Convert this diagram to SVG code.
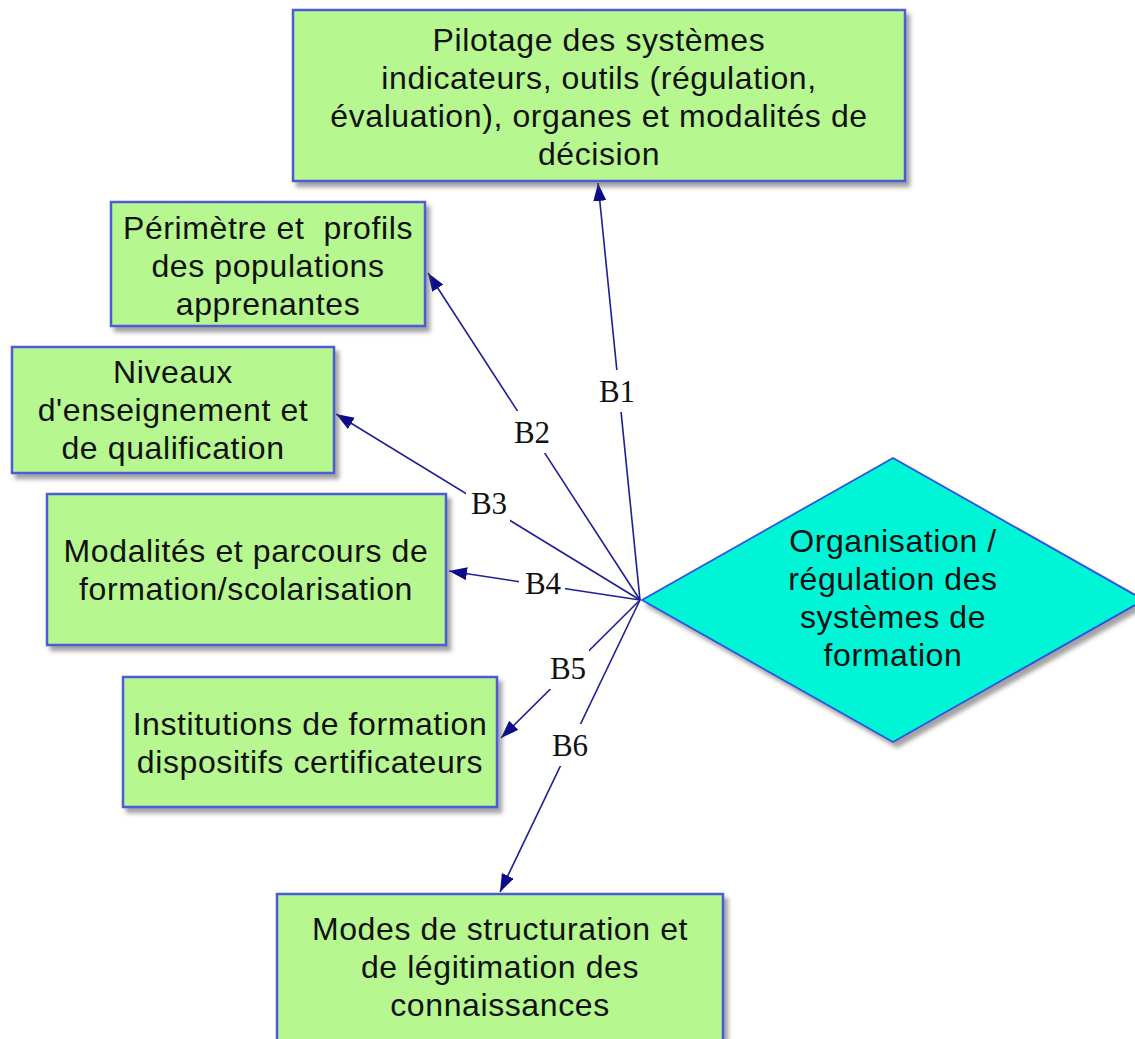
<svg xmlns="http://www.w3.org/2000/svg" width="1135" height="1039" viewBox="0 0 1135 1039">
<defs>
<filter id="sh" x="-5%" y="-5%" width="115%" height="115%">
<feDropShadow dx="4" dy="5" stdDeviation="2" flood-color="#555" flood-opacity="0.55"/>
</filter>
<marker id="ah" markerUnits="userSpaceOnUse" markerWidth="20" markerHeight="14" refX="18" refY="6.5" orient="auto">
<path d="M0,0 L18,6.5 L0,13 z" fill="#0c0c88"/>
</marker>
<style>
.box{fill:#b6f78f;stroke:#4e5bd6;stroke-width:2.5;filter:url(#sh)}
.dia{fill:#00f5d6;stroke:#3052e0;stroke-width:1.8;filter:url(#sh)}
.t{font-family:"Liberation Sans",Arial,sans-serif;font-size:32px;letter-spacing:0.6px;fill:#111;text-anchor:middle;white-space:pre}
.ln{stroke:#1e1e96;stroke-width:1.6;fill:none;marker-end:url(#ah)}
.lb{fill:#fff}
.lt{font-family:"Liberation Serif","Times New Roman",serif;font-size:31px;fill:#111;text-anchor:middle}
</style>
</defs>
<rect width="1135" height="1039" fill="#fff"/>

<g id="connectors">
<path class="ln" d="M640,600 L598,183"/>
<path class="ln" d="M640,600 L428,273"/>
<path class="ln" d="M640,600 L336,414"/>
<path class="ln" d="M640,600 L449,571"/>
<path class="ln" d="M640,600 L501,738"/>
<path class="ln" d="M640,600 L500,892"/>
<g id="labels">
<rect class="lb" x="594" y="370" width="44" height="42"/><text class="lt" x="617" y="402">B1</text>
<rect class="lb" x="509" y="411" width="44" height="42"/><text class="lt" x="532" y="443">B2</text>
<rect class="lb" x="466" y="482" width="44" height="42"/><text class="lt" x="489" y="514">B3</text>
<rect class="lb" x="519" y="562" width="46" height="42"/><text class="lt" x="543" y="594">B4</text>
<rect class="lb" x="545" y="647" width="44" height="42"/><text class="lt" x="568" y="679">B5</text>
<rect class="lb" x="547" y="724" width="44" height="42"/><text class="lt" x="570" y="756">B6</text>
</g>
</g>

<g id="node-pilotage">
<rect class="box" x="293" y="10" width="612" height="171"/>
<text class="t" x="599" y="51">Pilotage des systèmes</text>
<text class="t" x="599" y="89">indicateurs, outils (régulation,</text>
<text class="t" x="599" y="127">évaluation), organes et modalités de</text>
<text class="t" x="599" y="165">décision</text>
</g>

<g id="node-perimetre">
<rect class="box" x="111" y="202" width="314" height="124"/>
<text class="t" x="268" y="239">Périmètre et  profils</text>
<text class="t" x="268" y="277">des populations</text>
<text class="t" x="268" y="315">apprenantes</text>
</g>

<g id="node-niveaux">
<rect class="box" x="12" y="347" width="322" height="126"/>
<text class="t" x="173" y="383">Niveaux</text>
<text class="t" x="173" y="421">d'enseignement et</text>
<text class="t" x="173" y="459">de qualification</text>
</g>

<g id="node-modalites">
<rect class="box" x="47" y="494" width="399" height="151"/>
<text class="t" x="246" y="562">Modalités et parcours de</text>
<text class="t" x="246" y="600">formation/scolarisation</text>
</g>

<g id="node-institutions">
<rect class="box" x="123" y="677" width="374" height="130"/>
<text class="t" x="310" y="735">Institutions de formation</text>
<text class="t" x="310" y="773">dispositifs certificateurs</text>
</g>

<g id="node-modes">
<rect class="box" x="277" y="894" width="446" height="160"/>
<text class="t" x="500" y="940">Modes de structuration et</text>
<text class="t" x="500" y="978">de légitimation des</text>
<text class="t" x="500" y="1016">connaissances</text>
</g>

<g id="node-organisation">
<polygon class="dia" points="642,600 893,458 1144,600 893,742"/>
<text class="t" x="893" y="552">Organisation /</text>
<text class="t" x="893" y="590">régulation des</text>
<text class="t" x="893" y="628">systèmes de</text>
<text class="t" x="893" y="666">formation</text>
</g>
</svg>
